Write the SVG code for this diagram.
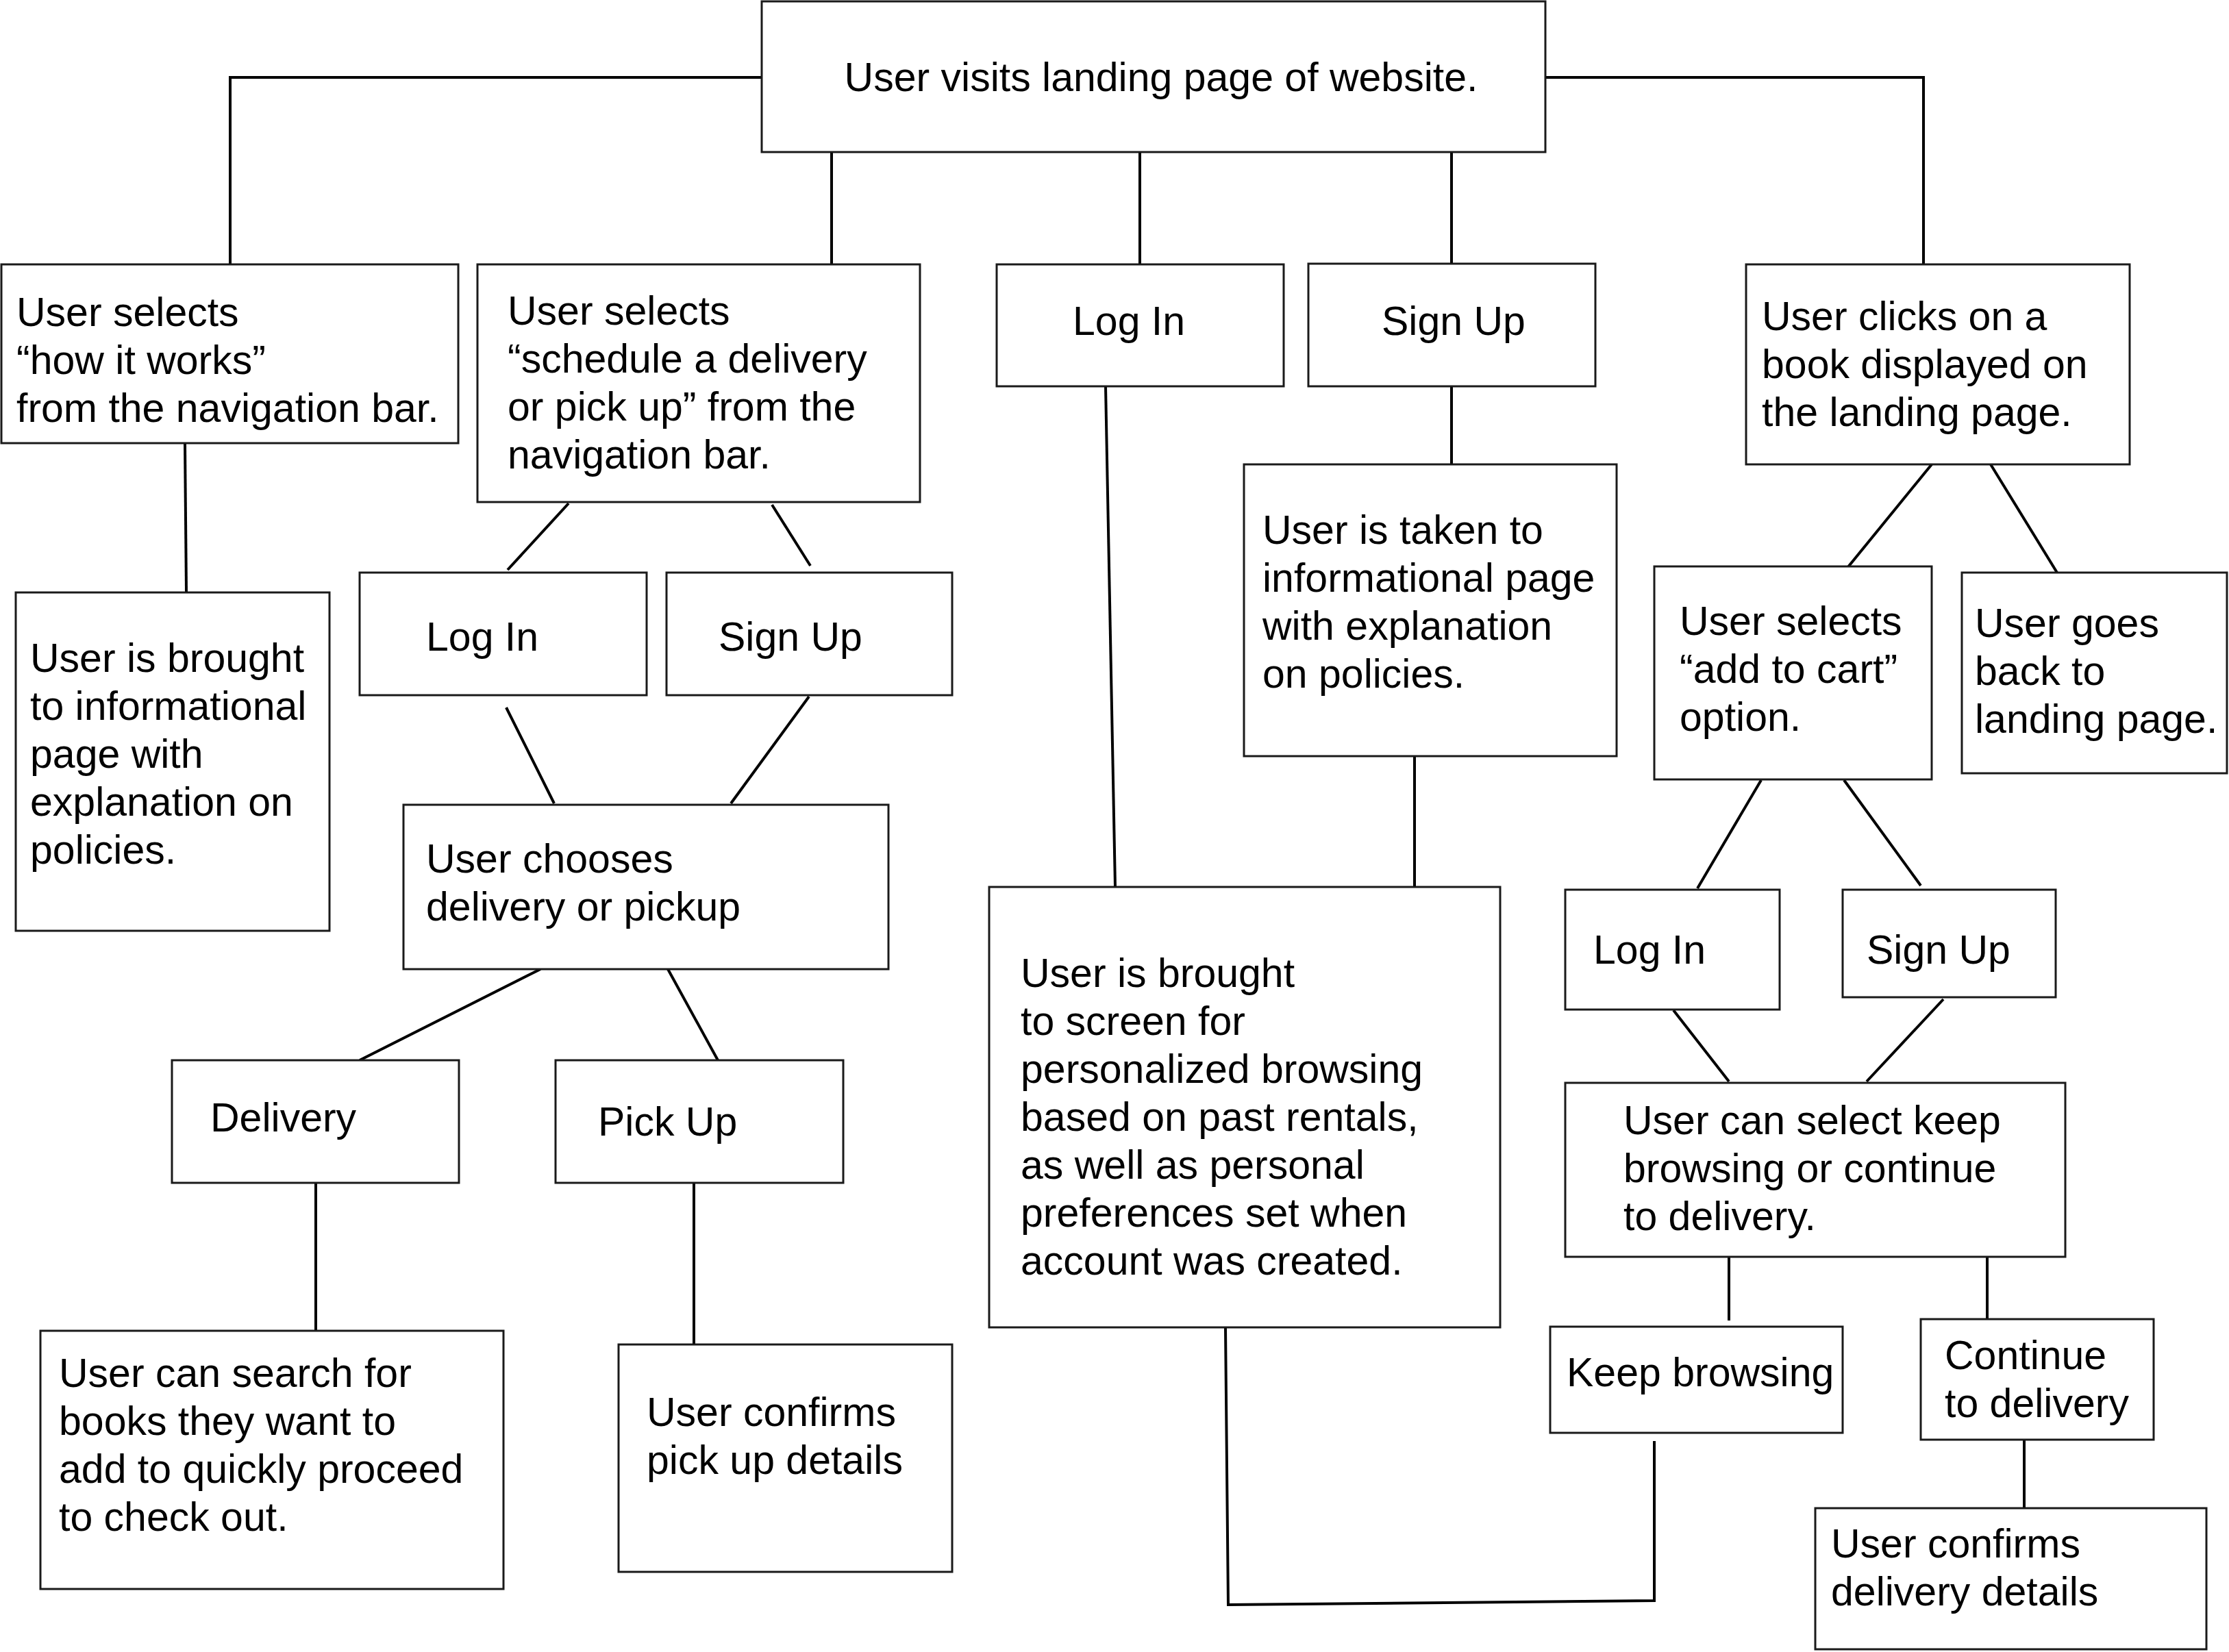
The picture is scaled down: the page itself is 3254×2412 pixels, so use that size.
<svg xmlns="http://www.w3.org/2000/svg" width="3254" height="2412" viewBox="0 0 3254 2412">
<style>
.box{fill:#fff;stroke:#1a1a1a;stroke-width:3}
.t{font-family:"Liberation Sans",Arial,sans-serif;font-size:59px;fill:#000}
.c{fill:none;stroke:#000;stroke-width:4}
</style>
<rect width="3254" height="2412" fill="#fff"/>
<g id="connectors">
<polyline class="c" points="1112,113 336,113 336,386"/>
<line class="c" x1="1214" y1="222" x2="1214" y2="386"/>
<line class="c" x1="1664" y1="222" x2="1664" y2="386"/>
<line class="c" x1="2119" y1="222" x2="2119" y2="386"/>
<polyline class="c" points="2256,113 2808,113 2808,386"/>
<line class="c" x1="270" y1="647" x2="272" y2="865"/>
<line class="c" x1="830" y1="735" x2="741" y2="832"/>
<line class="c" x1="1127" y1="737" x2="1183" y2="826"/>
<line class="c" x1="739" y1="1033" x2="809" y2="1173"/>
<line class="c" x1="1181" y1="1017" x2="1067" y2="1173"/>
<line class="c" x1="789" y1="1415" x2="525" y2="1548"/>
<line class="c" x1="975" y1="1415" x2="1048" y2="1548"/>
<line class="c" x1="461" y1="1727" x2="461" y2="1943"/>
<line class="c" x1="1013" y1="1727" x2="1013" y2="1963"/>
<line class="c" x1="1614" y1="564" x2="1628" y2="1295"/>
<line class="c" x1="2119" y1="564" x2="2119" y2="678"/>
<line class="c" x1="2065" y1="1104" x2="2065" y2="1295"/>
<polyline class="c" points="1789,1938 1793,2343 2415,2337 2415,2104"/>
<line class="c" x1="2820" y1="678" x2="2692" y2="835"/>
<line class="c" x1="2906" y1="678" x2="3003" y2="836"/>
<line class="c" x1="2571" y1="1139" x2="2478" y2="1297"/>
<line class="c" x1="2692" y1="1139" x2="2804" y2="1293"/>
<line class="c" x1="2443" y1="1475" x2="2524" y2="1579"/>
<line class="c" x1="2837" y1="1459" x2="2725" y2="1579"/>
<line class="c" x1="2524" y1="1835" x2="2524" y2="1928"/>
<line class="c" x1="2901" y1="1835" x2="2901" y2="1926"/>
<line class="c" x1="2955" y1="2102" x2="2955" y2="2202"/>
</g>
<g id="n-main">
<rect class="box" x="1112" y="2" width="1144" height="220"/>
<text class="t" x="1695" y="133" text-anchor="middle">User visits landing page of website.</text>
</g>
<g id="n-howitworks">
<rect class="box" x="2" y="386" width="667" height="261"/>
<text class="t"><tspan x="24" y="476">User selects</tspan><tspan x="24" y="546">“how it works”</tspan><tspan x="24" y="616">from the navigation bar.</tspan></text>
</g>
<g id="n-info1">
<rect class="box" x="23" y="865" width="458" height="494"/>
<text class="t"><tspan x="44" y="981">User is brought</tspan><tspan x="44" y="1051">to informational</tspan><tspan x="44" y="1121">page with</tspan><tspan x="44" y="1191">explanation on</tspan><tspan x="44" y="1261">policies.</tspan></text>
</g>
<g id="n-schedule">
<rect class="box" x="697" y="386" width="646" height="347"/>
<text class="t"><tspan x="741" y="474">User selects</tspan><tspan x="741" y="544">“schedule a delivery</tspan><tspan x="741" y="614">or pick up” from the</tspan><tspan x="741" y="684">navigation bar.</tspan></text>
</g>
<g id="n-login1">
<rect class="box" x="525" y="836" width="419" height="179"/>
<text class="t" x="622" y="950">Log In</text>
</g>
<g id="n-signup1">
<rect class="box" x="973" y="836" width="417" height="179"/>
<text class="t" x="1049" y="950">Sign Up</text>
</g>
<g id="n-chooses">
<rect class="box" x="589" y="1175" width="708" height="240"/>
<text class="t"><tspan x="622" y="1274">User chooses</tspan><tspan x="622" y="1344">delivery or pickup</tspan></text>
</g>
<g id="n-delivery">
<rect class="box" x="251" y="1548" width="419" height="179"/>
<text class="t" x="307" y="1652">Delivery</text>
</g>
<g id="n-pickup">
<rect class="box" x="811" y="1548" width="420" height="179"/>
<text class="t" x="873" y="1658">Pick Up</text>
</g>
<g id="n-search">
<rect class="box" x="59" y="1943" width="676" height="377"/>
<text class="t"><tspan x="86" y="2025">User can search for</tspan><tspan x="86" y="2095">books they want to</tspan><tspan x="86" y="2165">add to quickly proceed</tspan><tspan x="86" y="2235">to check out.</tspan></text>
</g>
<g id="n-confirmpickup">
<rect class="box" x="903" y="1963" width="487" height="332"/>
<text class="t"><tspan x="944" y="2082">User confirms</tspan><tspan x="944" y="2152">pick up details</tspan></text>
</g>
<g id="n-login2">
<rect class="box" x="1455" y="386" width="419" height="178"/>
<text class="t" x="1566" y="489">Log In</text>
</g>
<g id="n-signup2">
<rect class="box" x="1910" y="385" width="419" height="179"/>
<text class="t" x="2017" y="489">Sign Up</text>
</g>
<g id="n-info2">
<rect class="box" x="1816" y="678" width="544" height="426"/>
<text class="t"><tspan x="1843" y="794">User is taken to</tspan><tspan x="1843" y="864">informational page</tspan><tspan x="1843" y="934">with explanation</tspan><tspan x="1843" y="1004">on policies.</tspan></text>
</g>
<g id="n-personal">
<rect class="box" x="1444" y="1295" width="746" height="643"/>
<text class="t"><tspan x="1490" y="1441">User is brought</tspan><tspan x="1490" y="1511">to screen for</tspan><tspan x="1490" y="1581">personalized browsing</tspan><tspan x="1490" y="1651">based on past rentals,</tspan><tspan x="1490" y="1721">as well as personal</tspan><tspan x="1490" y="1791">preferences set when</tspan><tspan x="1490" y="1861">account was created.</tspan></text>
</g>
<g id="n-book">
<rect class="box" x="2549" y="386" width="560" height="292"/>
<text class="t"><tspan x="2572" y="482">User clicks on a</tspan><tspan x="2572" y="552">book displayed on</tspan><tspan x="2572" y="622">the landing page.</tspan></text>
</g>
<g id="n-addcart">
<rect class="box" x="2415" y="827" width="405" height="311"/>
<text class="t"><tspan x="2452" y="927">User selects</tspan><tspan x="2452" y="997">“add to cart”</tspan><tspan x="2452" y="1067">option.</tspan></text>
</g>
<g id="n-goback">
<rect class="box" x="2864" y="836" width="387" height="293"/>
<text class="t"><tspan x="2883" y="930">User goes</tspan><tspan x="2883" y="1000">back to</tspan><tspan x="2883" y="1070">landing page.</tspan></text>
</g>
<g id="n-login3">
<rect class="box" x="2285" y="1299" width="313" height="175"/>
<text class="t" x="2326" y="1407">Log In</text>
</g>
<g id="n-signup3">
<rect class="box" x="2690" y="1299" width="311" height="157"/>
<text class="t" x="2725" y="1407">Sign Up</text>
</g>
<g id="n-keeporcontinue">
<rect class="box" x="2285" y="1581" width="730" height="254"/>
<text class="t"><tspan x="2370" y="1656">User can select keep</tspan><tspan x="2370" y="1726">browsing or continue</tspan><tspan x="2370" y="1796">to delivery.</tspan></text>
</g>
<g id="n-keepbrowsing">
<rect class="box" x="2263" y="1937" width="427" height="155"/>
<text class="t" x="2287" y="2024">Keep browsing</text>
</g>
<g id="n-continue">
<rect class="box" x="2804" y="1926" width="340" height="176"/>
<text class="t"><tspan x="2839" y="1999">Continue</tspan><tspan x="2839" y="2069">to delivery</tspan></text>
</g>
<g id="n-confirmdelivery">
<rect class="box" x="2650" y="2202" width="571" height="206"/>
<text class="t"><tspan x="2673" y="2274">User confirms</tspan><tspan x="2673" y="2344">delivery details</tspan></text>
</g>
</svg>
